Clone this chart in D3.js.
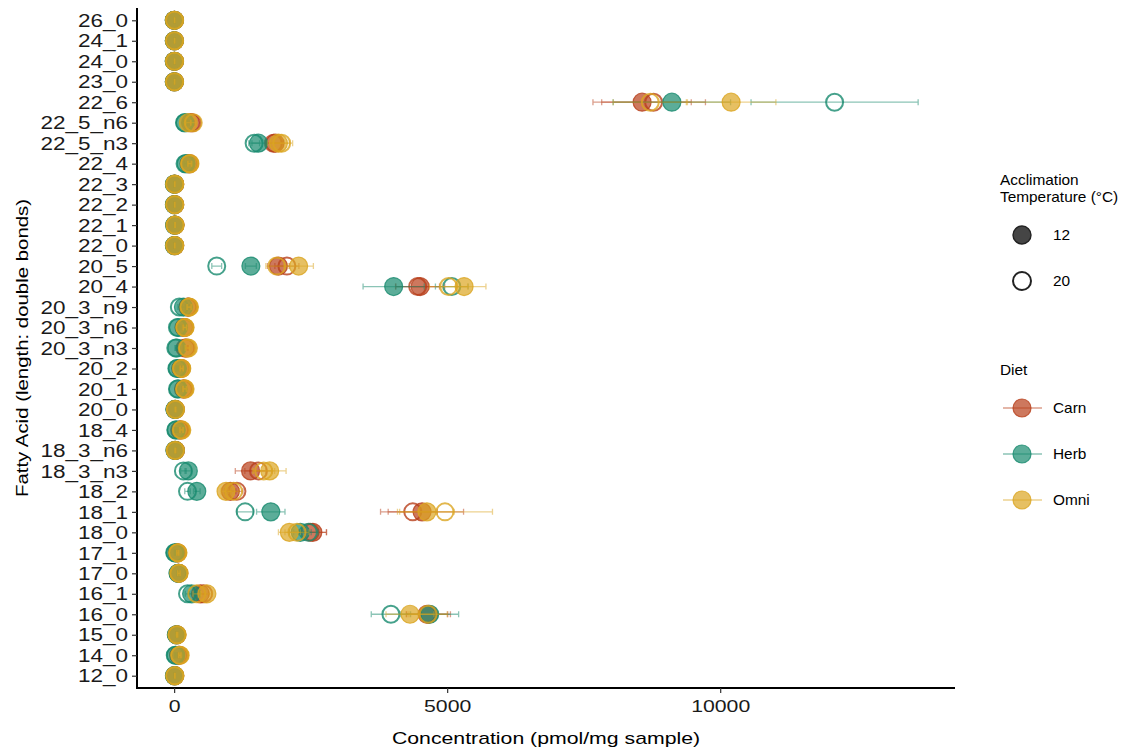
<!DOCTYPE html>
<html>
<head>
<meta charset="utf-8">
<script src="https://cdn.jsdelivr.net/npm/d3@7"></script>
<style>
  html, body { margin: 0; padding: 0; background: #fff; }
  svg text { font-family: "Liberation Sans", Arial, Helvetica, sans-serif; }
</style>
</head>
<body>
<svg id="chart" width="1130" height="753"></svg>
<script>
// ---- Data (bottom to top of chart) ----
const fattyAcids = ["12_0","14_0","15_0","16_0","16_1","17_0","17_1","18_0","18_1","18_2",
  "18_3_n3","18_3_n6","18_4","20_0","20_1","20_2","20_3_n3","20_3_n6","20_3_n9","20_4",
  "20_5","22_0","22_1","22_2","22_3","22_4","22_5_n3","22_5_n6","22_6","23_0","24_0","24_1","26_0"];

const diets = ["Carn", "Herb", "Omni"];
const temps = [12, 20];
const xTicks = [0, 5000, 10000];

// mean concentrations (pmol/mg sample), aligned with fattyAcids
const carn12 = [10, 90, 50, 4660, 480, 85, 60, 2540, 4540, 1030, 1400, 20, 120, 20, 180, 120, 200, 180, 260, 4505,
  1910, 10, 15, 10, 10, 280, 1850, 300, 8570, 5, 5, 5, 5];
const carn20 = [12, 80, 45, 4630, 540, 80, 55, 2490, 4370, 1150, 1545, 25, 100, 20, 170, 130, 220, 190, 250, 4460,
  2065, 10, 15, 10, 10, 270, 1820, 330, 8780, 5, 5, 5, 5];
const herb12 = [5, 30, 40, 4680, 320, 75, 20, 2310, 1770, 415, 260, 15, 40, 15, 75, 60, 50, 80, 170, 4020,
  1405, 5, 10, 5, 5, 220, 1545, 200, 9115, 3, 3, 3, 3];
const herb20 = [8, 20, 45, 3970, 245, 70, 10, 2460, 1300, 245, 170, 18, 30, 15, 60, 50, 30, 60, 95, 5085,
  780, 5, 10, 5, 5, 200, 1465, 190, 12095, 3, 3, 3, 3];
const omni12 = [15, 110, 55, 4320, 600, 90, 70, 2110, 4630, 950, 1750, 22, 140, 25, 200, 140, 260, 200, 280, 5310,
  2280, 12, 18, 12, 12, 290, 1910, 260, 10200, 8, 8, 8, 8];
const omni20 = [10, 100, 50, 4650, 415, 85, 65, 2250, 4960, 1090, 1640, 20, 130, 22, 190, 135, 240, 195, 270, 5025,
  1880, 10, 15, 10, 10, 280, 1970, 350, 8720, 6, 6, 6, 6];

// standard errors, aligned with fattyAcids
const carn12SE = [5, 15, 10, 400, 80, 20, 15, 250, 760, 100, 280, 8, 25, 6, 30, 25, 40, 30, 35, 450,
  200, 4, 5, 4, 4, 30, 150, 40, 900, 2, 2, 2, 2];
const carn20SE = [5, 15, 10, 380, 90, 20, 15, 300, 450, 110, 250, 8, 25, 6, 30, 25, 40, 30, 35, 400,
  220, 4, 5, 4, 4, 30, 140, 40, 950, 2, 2, 2, 2];
const herb12SE = [4, 12, 10, 530, 50, 18, 10, 200, 260, 60, 60, 6, 15, 5, 20, 15, 20, 25, 30, 560,
  100, 3, 4, 3, 3, 25, 120, 35, 1075, 2, 2, 2, 2];
const herb20SE = [4, 10, 10, 360, 40, 18, 8, 180, 150, 50, 50, 6, 12, 5, 18, 15, 15, 20, 25, 300,
  90, 3, 4, 3, 3, 25, 100, 35, 1530, 2, 2, 2, 2];
const omni12SE = [6, 20, 12, 440, 100, 22, 18, 200, 500, 90, 300, 8, 30, 7, 35, 28, 45, 35, 40, 400,
  270, 5, 6, 5, 5, 35, 200, 45, 820, 3, 3, 3, 3];
const omni20SE = [5, 18, 12, 350, 70, 20, 16, 220, 870, 100, 200, 8, 28, 7, 30, 25, 40, 30, 35, 350,
  200, 4, 5, 4, 4, 30, 200, 45, 680, 3, 3, 3, 3];

const meanSets = { Carn: { 12: carn12, 20: carn20 }, Herb: { 12: herb12, 20: herb20 }, Omni: { 12: omni12, 20: omni20 } };
const seSets = { Carn: { 12: carn12SE, 20: carn20SE }, Herb: { 12: herb12SE, 20: herb20SE }, Omni: { 12: omni12SE, 20: omni20SE } };

const dietColors = { Carn: "#b83e1a", Herb: "#178a6e", Omni: "#dba521" };

// ---- Build records ----
const records = [];
diets.forEach(d => temps.forEach(t => fattyAcids.forEach((fa, i) => {
  records.push({ fa, diet: d, temp: t, mean: meanSets[d][t][i], se: seSets[d][t][i] });
})));

// ---- Layout ----
const svg = d3.select("#chart");
const panel = { left: 137, right: 955, top: 8, bottom: 688 };
const SX = 1.25;  // horizontal text stretch (axes)
const LSX = 1.1;  // horizontal text stretch (legend)

const x = d3.scaleLinear().domain([-680, 14300]).range([panel.left, panel.right]);
const y = d3.scalePoint().domain(fattyAcids.slice().reverse()).range([panel.top, panel.bottom]).padding(0.6);

function stretchText(sel, px, py, s) {
  return sel.attr("transform", `translate(${px},${py}) scale(${s || SX},1)`);
}

// ---- Axes ----
const yAxis = svg.append("g").attr("transform", `translate(${panel.left},0)`)
  .call(d3.axisLeft(y).tickSize(5).tickPadding(4));
yAxis.select(".domain").attr("stroke", "#000").attr("stroke-width", 2)
  .attr("d", `M0,${panel.top}V${panel.bottom + 1}`);
yAxis.selectAll(".tick line").attr("stroke", "#333").attr("stroke-width", 1.2);
yAxis.selectAll(".tick text").each(function() {
  const t = d3.select(this);
  t.attr("x", null).attr("dy", null).attr("font-size", 18).attr("fill", "#1a1a1a")
    .attr("text-anchor", "end").attr("dominant-baseline", "central");
  stretchText(t, -9, 0);
});

const xAxis = svg.append("g").attr("transform", `translate(0,${panel.bottom})`)
  .call(d3.axisBottom(x).tickValues(xTicks).tickFormat(d3.format("d")).tickSize(5).tickPadding(4));
xAxis.select(".domain").attr("stroke", "#000").attr("stroke-width", 2)
  .attr("d", `M${panel.left - 1},0H${panel.right}`);
xAxis.selectAll(".tick line").attr("stroke", "#333").attr("stroke-width", 1.2);
xAxis.selectAll(".tick text").each(function() {
  const t = d3.select(this);
  t.attr("y", null).attr("dy", null).attr("font-size", 17).attr("fill", "#1a1a1a")
    .attr("text-anchor", "middle").attr("dominant-baseline", "central");
  stretchText(t, 0, 18);
});

// axis titles
stretchText(svg.append("text").attr("font-size", 17).attr("text-anchor", "middle").attr("fill", "#000")
  .text("Concentration (pmol/mg sample)"), (panel.left + panel.right) / 2, 744);
svg.append("text").attr("font-size", 17).attr("text-anchor", "middle").attr("fill", "#000")
  .attr("transform", `translate(28,${(panel.top + panel.bottom) / 2}) rotate(-90) scale(1.2,1)`)
  .text("Fatty Acid (length: double bonds)");

// ---- Marks ----
const marks = svg.append("g");
const capH = 3;
diets.forEach(d => {
  temps.forEach(t => {
    const recs = records.filter(r => r.diet === d && r.temp === t);
    const col = dietColors[d];
    const g = marks.append("g");
    g.selectAll("circle").data(recs).join("circle")
      .attr("cx", r => x(r.mean)).attr("cy", r => y(r.fa)).attr("r", t === 12 ? 9 : 8.5)
      .attr("fill", t === 12 ? col : "none")
      .attr("fill-opacity", 0.7)
      .attr("stroke", col).attr("stroke-opacity", 0.8)
      .attr("stroke-width", t === 12 ? 1.2 : 2);
    const eb = g.append("g").attr("stroke", col).attr("stroke-opacity", 0.5).attr("stroke-width", 1.3).attr("fill", "none");
    eb.selectAll("path").data(recs).join("path")
      .attr("d", r => {
        const x0 = x(r.mean - r.se), x1 = x(r.mean + r.se), yy = y(r.fa);
        return `M${x0},${yy - capH}V${yy + capH}M${x0},${yy}H${x1}M${x1},${yy - capH}V${yy + capH}`;
      });
  });
});

// ---- Legend ----
const lg = svg.append("g");
const keyX = 1022, labX = 1053;
stretchText(lg.append("text").attr("font-size", 14).text("Acclimation"), 1000, 185, LSX);
stretchText(lg.append("text").attr("font-size", 14).text("Temperature (°C)"), 1000, 202, LSX);
const tempY = { 12: 235, 20: 281 };
temps.forEach(t => {
  lg.append("circle").attr("cx", keyX).attr("cy", tempY[t]).attr("r", 9)
    .attr("fill", t === 12 ? "#111" : "none").attr("fill-opacity", 0.78)
    .attr("stroke", "#222").attr("stroke-width", t === 12 ? 1.4 : 2);
  stretchText(lg.append("text").attr("font-size", 14).attr("dominant-baseline", "central").text(String(t)), labX, tempY[t], LSX);
});
stretchText(lg.append("text").attr("font-size", 14).text("Diet"), 1000, 375, LSX);
const dietY = { Carn: 408, Herb: 454, Omni: 500 };
diets.forEach(d => {
  const col = dietColors[d];
  lg.append("line").attr("x1", 1003).attr("x2", 1042).attr("y1", dietY[d]).attr("y2", dietY[d])
    .attr("stroke", col).attr("stroke-opacity", 0.5).attr("stroke-width", 1.3);
  lg.append("circle").attr("cx", keyX).attr("cy", dietY[d]).attr("r", 9)
    .attr("fill", col).attr("fill-opacity", 0.7).attr("stroke", col).attr("stroke-opacity", 0.8).attr("stroke-width", 1.2);
  stretchText(lg.append("text").attr("font-size", 14).attr("dominant-baseline", "central").text(d), labX, dietY[d], LSX);
});
</script>
</body>
</html>
